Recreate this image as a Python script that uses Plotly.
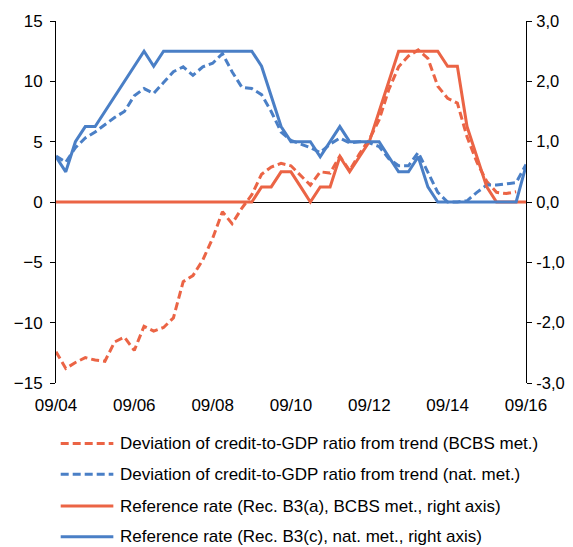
import pandas as pd
import plotly.graph_objects as go

# quarterly observations, Sep 2004 .. Sep 2016
quarters = pd.period_range("2004-09", "2016-09", freq="3M").to_timestamp()

tick_dates = ["2004-09-01", "2006-09-01", "2008-09-01", "2010-09-01",
              "2012-09-01", "2014-09-01", "2016-09-01"]
tick_labels = ["09/04", "09/06", "09/08", "09/10", "09/12", "09/14", "09/16"]

# deviation of credit-to-GDP ratio from trend, BCBS methodology (left axis)
gap_bcbs = [-12.4, -13.8, -13.3, -12.9, -13.1, -13.2, -11.6, -11.2, -12.3, -10.3,
            -10.7, -10.4, -9.6, -6.6, -6.1, -4.8, -3.0, -0.8, -1.8, -0.5,
            0.6, 2.3, 2.9, 3.2, 3.0, 2.2, 1.4, 2.5, 2.4, 3.8,
            2.6, 4.0, 5.2, 6.8, 9.3, 11.2, 12.1, 12.6, 11.9, 9.6,
            8.6, 8.2, 5.4, 3.3, 1.7, 0.8, 0.7, 0.85, None]

# deviation of credit-to-GDP ratio from trend, national methodology (left axis)
gap_nat = [3.8, 3.3, 4.5, 5.3, 5.8, 6.4, 7.0, 7.5, 8.8, 9.4,
           9.0, 9.9, 10.8, 11.2, 10.5, 11.2, 11.5, 12.3, 10.8, 9.5,
           9.4, 8.9, 7.5, 5.8, 5.1, 4.8, 4.5, 4.1, 4.8, 5.3,
           4.9, 5.0, 4.9, 4.6, 3.6, 3.0, 3.0, 4.1, 2.5, 0.8,
           0.0, 0.0, 0.1, 0.8, 1.4, 1.4, 1.5, 1.6, 3.1]

# reference buffer rate, Rec. B3(a) (right axis)
rate_a = [0, 0, 0, 0, 0, 0, 0, 0, 0, 0,
          0, 0, 0, 0, 0, 0, 0, 0, 0, 0,
          0, 0.25, 0.25, 0.5, 0.5, 0.25, 0, 0.25, 0.25, 0.75,
          0.5, 0.75, 1.0, 1.5, 2.0, 2.5, 2.5, 2.5, 2.5, 2.5,
          2.25, 2.25, 1.25, 0.75, 0.25, 0, 0, 0, 0]

# reference buffer rate, Rec. B3(c) (right axis)
rate_c = [0.75, 0.5, 1.0, 1.25, 1.25, 1.5, 1.75, 2.0, 2.25, 2.5,
          2.25, 2.5, 2.5, 2.5, 2.5, 2.5, 2.5, 2.5, 2.5, 2.5,
          2.5, 2.25, 1.75, 1.25, 1.0, 1.0, 1.0, 0.75, 1.0, 1.25,
          1.0, 1.0, 1.0, 1.0, 0.75, 0.5, 0.5, 0.75, 0.25, 0,
          0, 0, 0, 0, 0, 0, 0, 0, 0.6]

series_names = [
    "Deviation of credit-to-GDP ratio from trend (BCBS met.)",
    "Deviation of credit-to-GDP ratio from trend (nat. met.)",
    "Reference rate (Rec. B3(a), BCBS met., right axis)",
    "Reference rate (Rec. B3(c), nat. met., right axis)",
]

left_ticks = [-15, -10, -5, 0, 5, 10, 15]
right_ticks = [-3, -2, -1, 0, 1, 2, 3]
right_labels = ["-3,0", "-2,0", "-1,0", "0,0", "1,0", "2,0", "3,0"]

RED = "#EB6445"
BLUE = "#4A7FC6"
DASH = "8px,4px"

styles = [(RED, DASH, "y"), (BLUE, DASH, "y"), (RED, "solid", "y2"), (BLUE, "solid", "y2")]
values = [gap_bcbs, gap_nat, rate_a, rate_c]

fig = go.Figure()
for name, vals, (color, dash, axis) in zip(series_names, values, styles):
    fig.add_trace(go.Scatter(x=quarters, y=vals, mode="lines", name=name, yaxis=axis,
                             line=dict(color=color, width=3, dash=dash)))

# legend drawn by hand below the plot, so the sample lines are as long as in the original
row_y = [-0.167, -0.252, -0.340, -0.425]
for name, (color, dash, axis), ry in zip(series_names, styles, row_y):
    fig.add_shape(type="line", xref="paper", yref="paper", x0=0.010, x1=0.122, y0=ry, y1=ry,
                  line=dict(color=color, width=3, dash=dash))
    fig.add_annotation(text=name, xref="paper", yref="paper", x=0.131, y=ry,
                       xanchor="left", yanchor="middle", showarrow=False,
                       font=dict(size=17, color="black"))

fig.update_layout(
    width=565, height=539,
    margin=dict(l=48, r=47, t=13, b=164, autoexpand=False),
    paper_bgcolor="white", plot_bgcolor="white",
    font=dict(family="Liberation Sans, Arial, sans-serif", size=17, color="black"),
    xaxis=dict(range=[quarters[0], quarters[-1]], tickvals=tick_dates, ticktext=tick_labels,
               showline=False, showgrid=False, zeroline=False, ticks="",
               ticklabelstandoff=10, automargin=False),
    yaxis=dict(range=[-15, 15], tickvals=left_ticks, showgrid=False,
               showline=True, linecolor="black", linewidth=1,
               ticks="outside", ticklen=5, tickcolor="black", ticklabelstandoff=4,
               zeroline=True, zerolinecolor="black", zerolinewidth=1, automargin=False),
    yaxis2=dict(range=[-3, 3], tickvals=right_ticks, ticktext=right_labels,
                overlaying="y", side="right", showgrid=False, zeroline=False,
                showline=True, linecolor="black", linewidth=1,
                ticks="outside", ticklen=5, tickcolor="black", ticklabelstandoff=1,
                tickfont=dict(size=16.5), automargin=False),
    showlegend=False,
)

fig.write_html("out.html")
